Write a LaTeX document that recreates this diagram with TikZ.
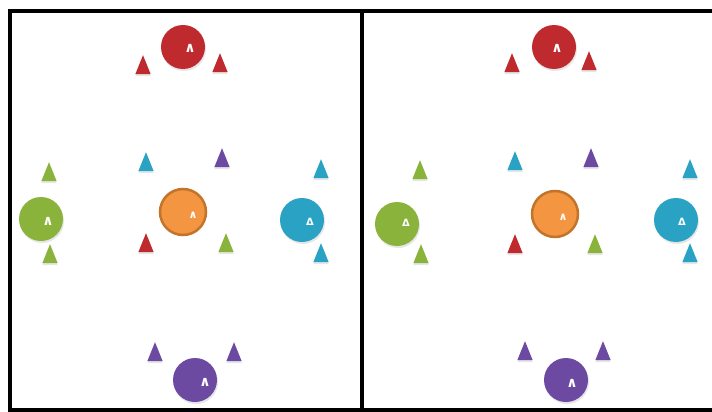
\documentclass[tikz,border=0pt]{standalone}
\usepackage{fontspec}
\newfontfamily\markfont{DejaVu Sans}
\usetikzlibrary{shapes.geometric,shadows}
\definecolor{cred}{HTML}{BF2A2F}
\definecolor{cgreen}{HTML}{8AB33B}
\definecolor{cblue}{HTML}{2AA2C3}
\definecolor{corange}{HTML}{F49541}
\definecolor{crim}{HTML}{C2742A}
\definecolor{cpurple}{HTML}{6C4AA2}

\begin{document}
\begin{tikzpicture}[
  x=1pt, y=-1pt,
  ball/.style={circle, minimum size=44pt, inner sep=0pt,
               drop shadow={opacity=0.2, shadow xshift=1pt, shadow yshift=-2pt}},
  hub/.style={circle, minimum size=46pt, inner sep=0pt, fill=corange,
              draw=crim, line width=2.5pt},
  cone/.style={isosceles triangle, shape border rotate=90,
               isosceles triangle apex angle=44, minimum height=19pt,
               inner sep=0pt,
               drop shadow={opacity=0.2, shadow xshift=0pt, shadow yshift=-2pt}},
  sign/.style={text=white, font=\markfont\bfseries\fontsize{10}{10}\selectfont, inner sep=0pt},
  wedge/.style={sign, font=\markfont\bfseries\fontsize{14}{14}\selectfont},
  tinywedge/.style={sign, font=\markfont\bfseries\fontsize{11}{11}\selectfont},
]
\useasboundingbox (0,0) rectangle (712,412);

% frame
\draw[line width=3.5pt] (712,11) -- (10,11) -- (10,410) -- (712,410);
\draw[line width=4pt] (362,11) -- (362,410);

% left field
\node[ball, fill=cred] (redA) at (183,47) {};
\node[wedge] (redA-s) at (190,48) {∧};
\node[cone, fill=cred] (redA-l) at (143,69) {};
\node[cone, fill=cred] (redA-r) at (220,67) {};

\node[ball, fill=cgreen] (greenA) at (41,219) {};
\node[wedge] (greenA-s) at (48,221) {∧};
\node[cone, fill=cgreen] (greenA-t) at (49,176) {};
\node[cone, fill=cgreen] (greenA-b) at (50,258) {};

\node[ball, fill=cblue] (blueA) at (302,220) {};
\node[sign] (blueA-s) at (310,222) {Δ};
\node[cone, fill=cblue] (blueA-t) at (321,173) {};
\node[cone, fill=cblue] (blueA-b) at (321,257) {};

\node[hub] (midA) at (183,212) {};
\node[tinywedge] (midA-s) at (193,215) {∧};
\node[cone, fill=cblue] (midA-nw) at (146,166) {};
\node[cone, fill=cpurple] (midA-ne) at (222,162) {};
\node[cone, fill=cred] (midA-sw) at (146,247) {};
\node[cone, fill=cgreen] (midA-se) at (226,247) {};

\node[ball, fill=cpurple] (purpleA) at (195,380) {};
\node[wedge] (purpleA-s) at (205,382) {∧};
\node[cone, fill=cpurple] (purpleA-l) at (155,356) {};
\node[cone, fill=cpurple] (purpleA-r) at (234,356) {};

% right field
\node[ball, fill=cred] (redB) at (554,47) {};
\node[wedge] (redB-s) at (557,48) {∧};
\node[cone, fill=cred] (redB-l) at (512,67) {};
\node[cone, fill=cred] (redB-r) at (589,65) {};

\node[ball, fill=cgreen] (greenB) at (397,224) {};
\node[sign] (greenB-s) at (406,223) {Δ};
\node[cone, fill=cgreen] (greenB-t) at (420,174) {};
\node[cone, fill=cgreen] (greenB-b) at (421,258) {};

\node[ball, fill=cblue] (blueB) at (676,220) {};
\node[sign] (blueB-s) at (682,222) {Δ};
\node[cone, fill=cblue] (blueB-t) at (690,173) {};
\node[cone, fill=cblue] (blueB-b) at (690,257) {};

\node[hub] (midB) at (555,214) {};
\node[tinywedge] (midB-s) at (563,217) {∧};
\node[cone, fill=cblue] (midB-nw) at (515,165) {};
\node[cone, fill=cpurple] (midB-ne) at (591,162) {};
\node[cone, fill=cred] (midB-sw) at (515,248) {};
\node[cone, fill=cgreen] (midB-se) at (595,248) {};

\node[ball, fill=cpurple] (purpleB) at (566,380) {};
\node[wedge] (purpleB-s) at (572,383) {∧};
\node[cone, fill=cpurple] (purpleB-l) at (525,355) {};
\node[cone, fill=cpurple] (purpleB-r) at (603,355) {};
\end{tikzpicture}
\end{document}
